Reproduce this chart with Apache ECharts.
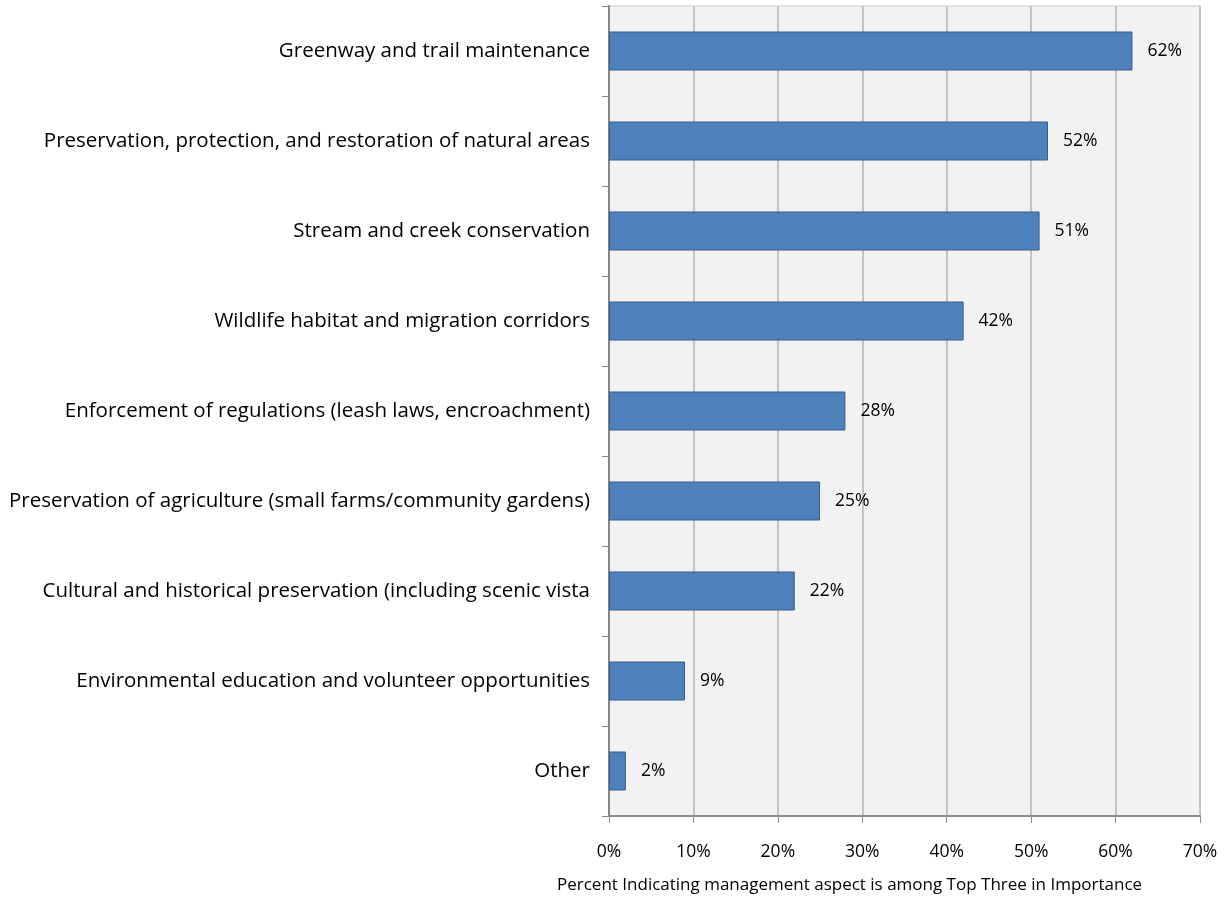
<!DOCTYPE html>
<html>
<head>
<meta charset="utf-8">
<script src="https://cdn.jsdelivr.net/npm/echarts@6/dist/echarts.min.js"></script>
<style>
  html, body { margin: 0; padding: 0; background: #ffffff; }
  #chart { width: 1231px; height: 900px; }
</style>
</head>
<body>
<div id="chart"></div>
<script>
// Management aspects ranked among the top three in importance
const categories = [
  'Greenway and trail maintenance',
  'Preservation, protection, and restoration of natural areas',
  'Stream and creek conservation',
  'Wildlife habitat and migration corridors',
  'Enforcement of regulations (leash laws, encroachment)',
  'Preservation of agriculture (small farms/community gardens)',
  'Cultural and historical preservation (including scenic vista',
  'Environmental education and volunteer opportunities',
  'Other'
];
const percents = [62, 52, 51, 42, 28, 25, 22, 9, 2];
const xTicks = [0, 10, 20, 30, 40, 50, 60, 70];
const axisTitle = 'Percent Indicating management aspect is among Top Three in Importance';

const FONT = 'Open Sans';
const chart = echarts.init(document.getElementById('chart'));
chart.setOption({
  animation: false,
  grid: {
    left: 609, right: 31, top: 6, bottom: 84,
    show: true, backgroundColor: '#F2F2F2', borderColor: '#C8C8C8', borderWidth: 1
  },
  xAxis: {
    type: 'value',
    min: xTicks[0], max: xTicks[xTicks.length - 1], interval: 10,
    axisLine: { show: true, lineStyle: { color: '#8C8C8C', width: 2 } },
    axisTick: { show: true, length: 7, lineStyle: { color: '#8C8C8C' } },
    splitLine: { show: true, lineStyle: { color: '#C4C4C4', width: 2 } },
    axisLabel: { formatter: '{value}%', color: '#000', fontFamily: FONT, fontSize: 17.5, margin: 27 }
  },
  yAxis: {
    type: 'category',
    data: categories,
    inverse: true,
    axisLine: { show: true, lineStyle: { color: '#868686', width: 2 } },
    axisTick: { show: true, length: 7, inside: false, lineStyle: { color: '#868686' } },
    axisLabel: { color: '#000', fontFamily: FONT, fontSize: 20.5, margin: 19 }
  },
  series: [{
    type: 'bar',
    data: percents,
    barWidth: 39,
    itemStyle: { color: '#4F81BD', borderColor: '#385D8A', borderWidth: 1 },
    label: {
      show: true, position: 'right', distance: 15,
      formatter: '{c}%', color: '#000', fontFamily: FONT, fontSize: 17.5
    }
  }],
  graphic: [{
    type: 'text',
    left: 557, top: 877,
    style: { text: axisTitle, fill: '#000', font: '17px "' + FONT + '"' }
  }]
});
</script>
</body>
</html>
